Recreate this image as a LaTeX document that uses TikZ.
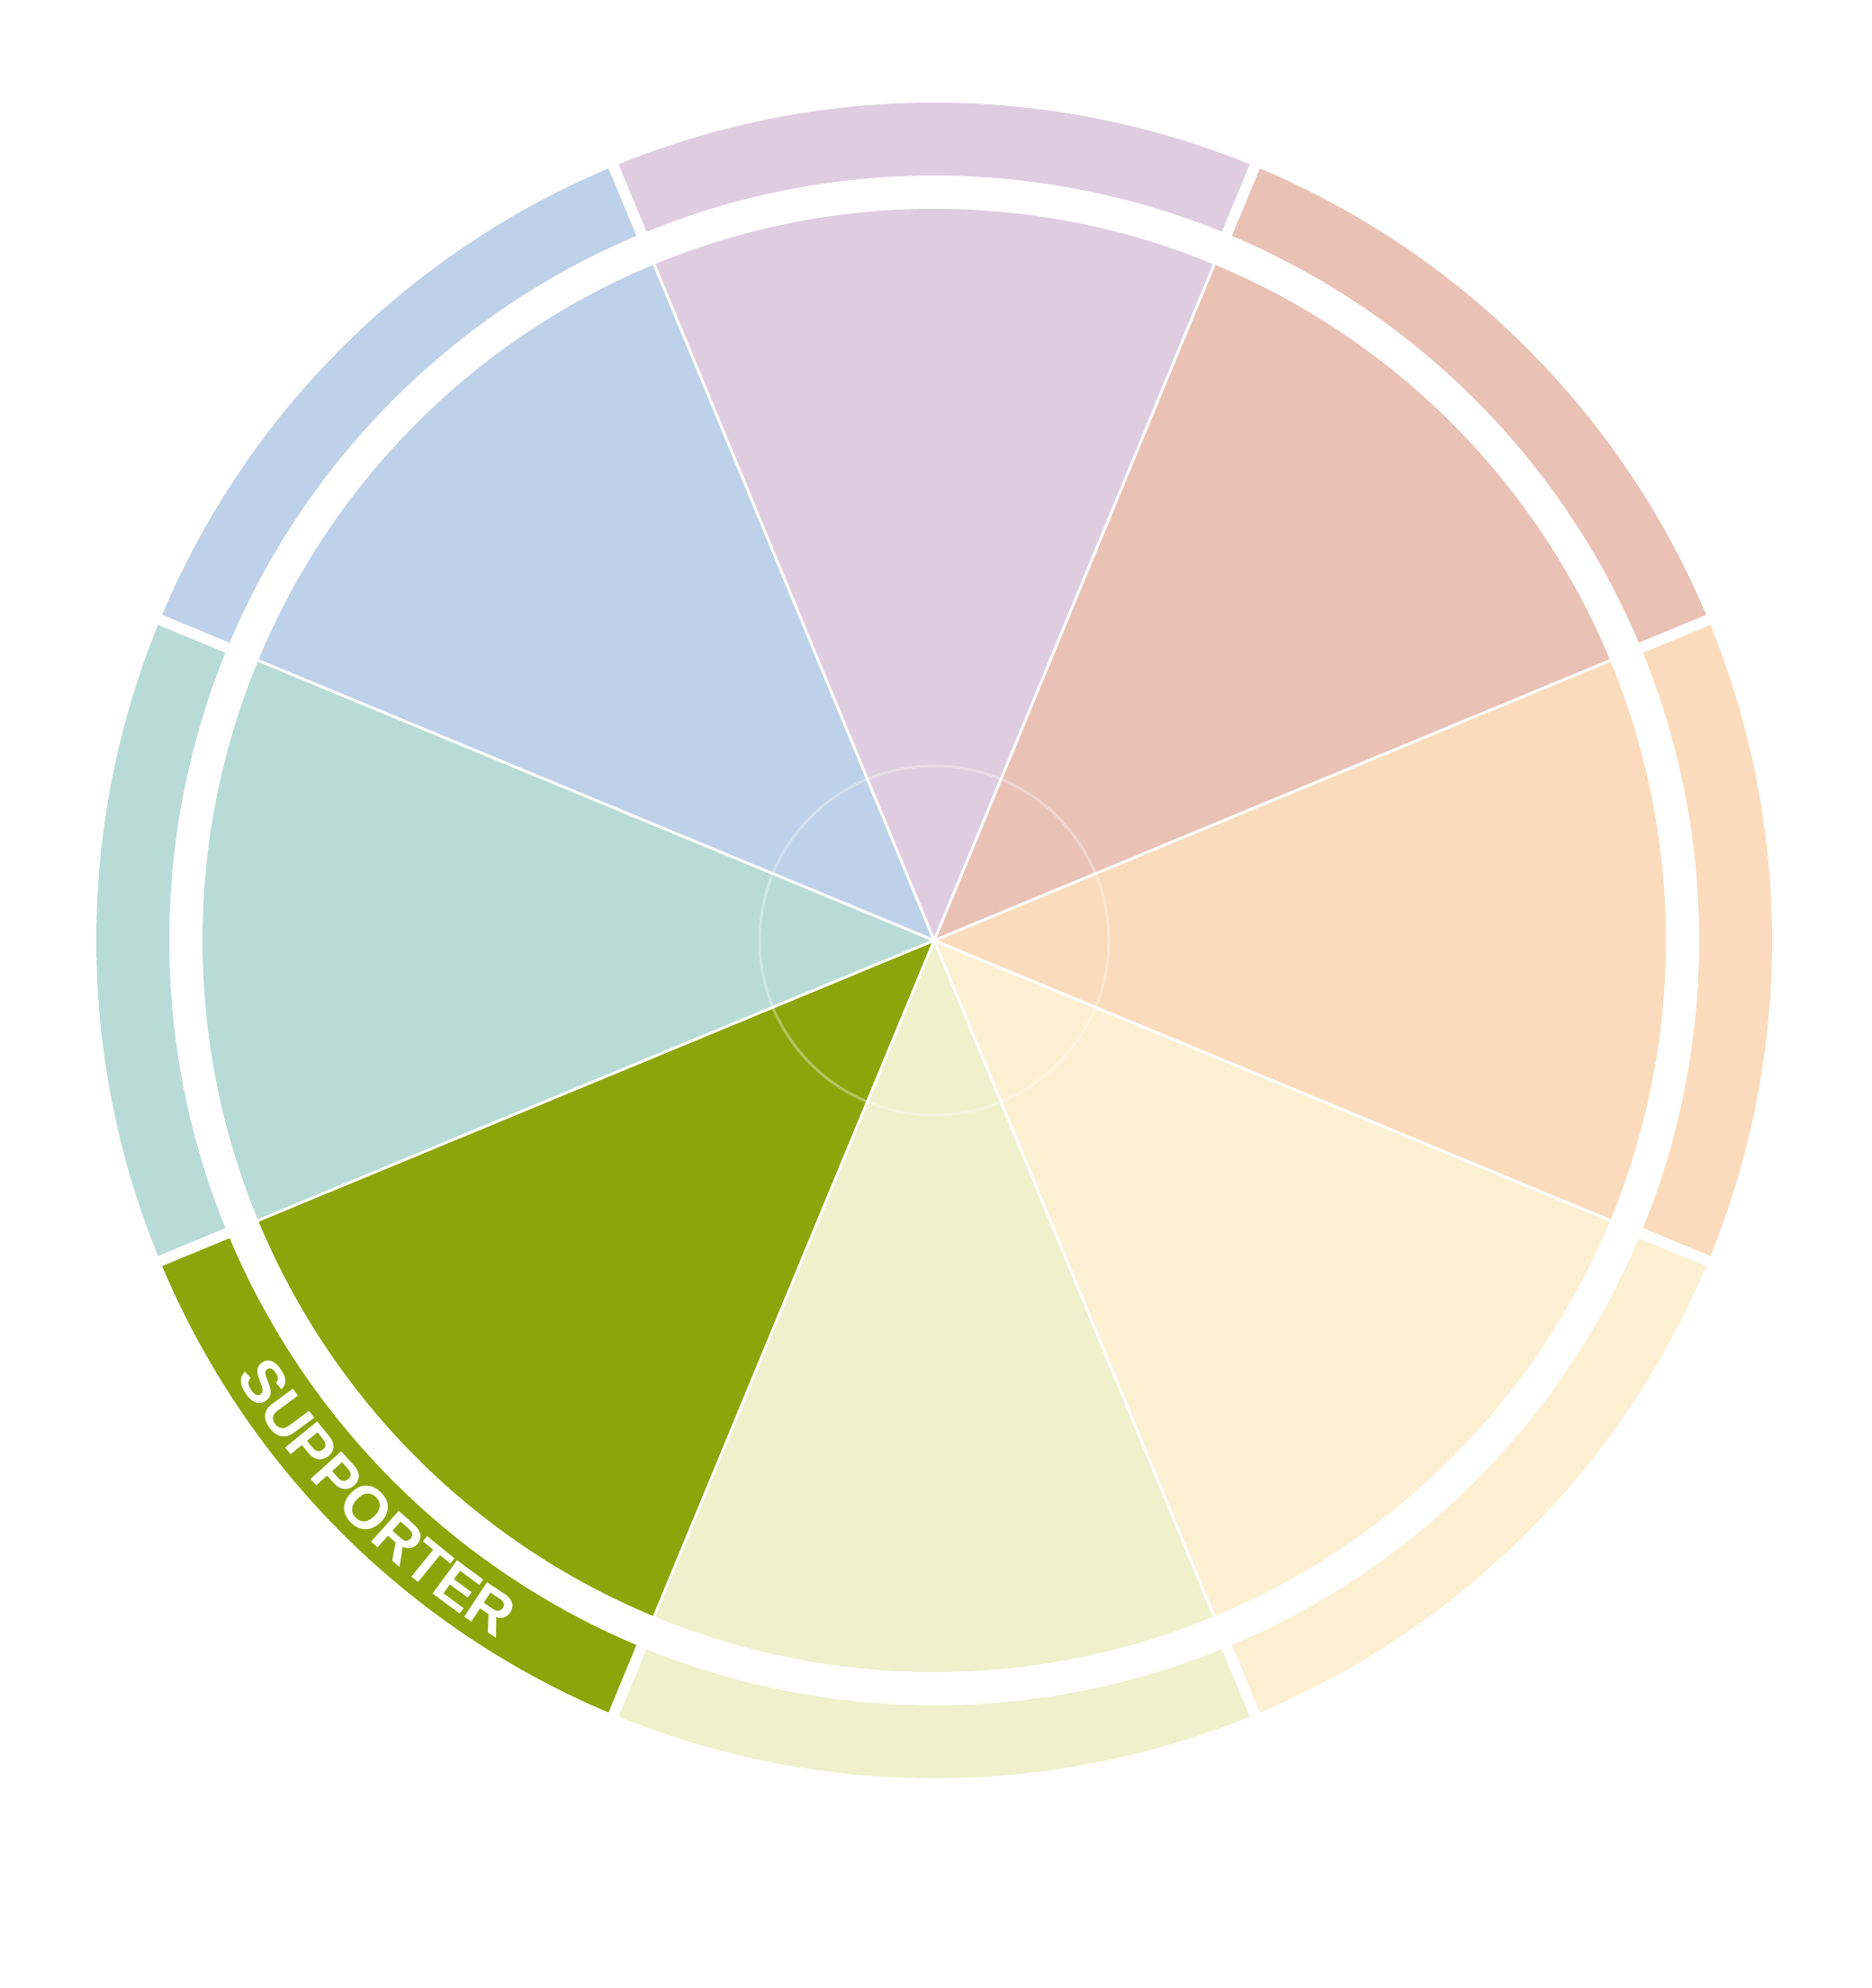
\documentclass[tikz,border=0pt]{standalone}
\usepackage{fontspec}
\setmainfont{Liberation Sans}
\usetikzlibrary{decorations.text}
\definecolor{rolePurple}{HTML}{E0CCE0}
\definecolor{roleSalmon}{HTML}{EAC1B5}
\definecolor{roleOrange}{HTML}{FADCBC}
\definecolor{roleCream}{HTML}{FDEFD1}
\definecolor{roleLime}{HTML}{EEF1CC}
\definecolor{roleGreen}{HTML}{8BA50A}
\definecolor{roleTeal}{HTML}{B8DBD8}
\definecolor{roleBlue}{HTML}{BDD1E8}
\begin{document}
\begin{tikzpicture}
  \useasboundingbox (-10.38,-11.64) rectangle (10.41,10.45);
  \coordinate (o) at (0,0);
  \pgfmathsetmacro{\innerR}{8.13}
  \pgfmathsetmacro{\ringIn}{8.50}
  \pgfmathsetmacro{\ringOut}{9.31}
  %--- Wedges
  \fill[rolePurple] (o) -- (67.5:\innerR) arc[start angle=67.5,end angle=112.5,radius=\innerR] -- cycle;
  \fill[roleBlue] (o) -- (112.5:\innerR) arc[start angle=112.5,end angle=157.5,radius=\innerR] -- cycle;
  \fill[roleTeal] (o) -- (157.5:\innerR) arc[start angle=157.5,end angle=202.5,radius=\innerR] -- cycle;
  \fill[roleGreen] (o) -- (202.5:\innerR) arc[start angle=202.5,end angle=247.5,radius=\innerR] -- cycle;
  \fill[roleLime] (o) -- (247.5:\innerR) arc[start angle=247.5,end angle=292.5,radius=\innerR] -- cycle;
  \fill[roleCream] (o) -- (292.5:\innerR) arc[start angle=292.5,end angle=337.5,radius=\innerR] -- cycle;
  \fill[roleOrange] (o) -- (-22.5:\innerR) arc[start angle=-22.5,end angle=22.5,radius=\innerR] -- cycle;
  \fill[roleSalmon] (o) -- (22.5:\innerR) arc[start angle=22.5,end angle=67.5,radius=\innerR] -- cycle;
  %--- Outer ring
  \fill[rolePurple] (67.5:\ringIn) arc[start angle=67.5,end angle=112.5,radius=\ringIn] -- (112.5:\ringOut) arc[start angle=112.5,end angle=67.5,radius=\ringOut] -- cycle;
  \fill[roleBlue] (112.5:\ringIn) arc[start angle=112.5,end angle=157.5,radius=\ringIn] -- (157.5:\ringOut) arc[start angle=157.5,end angle=112.5,radius=\ringOut] -- cycle;
  \fill[roleTeal] (157.5:\ringIn) arc[start angle=157.5,end angle=202.5,radius=\ringIn] -- (202.5:\ringOut) arc[start angle=202.5,end angle=157.5,radius=\ringOut] -- cycle;
  \fill[roleGreen] (202.5:\ringIn) arc[start angle=202.5,end angle=247.5,radius=\ringIn] -- (247.5:\ringOut) arc[start angle=247.5,end angle=202.5,radius=\ringOut] -- cycle;
  \fill[roleLime] (247.5:\ringIn) arc[start angle=247.5,end angle=292.5,radius=\ringIn] -- (292.5:\ringOut) arc[start angle=292.5,end angle=247.5,radius=\ringOut] -- cycle;
  \fill[roleCream] (292.5:\ringIn) arc[start angle=292.5,end angle=337.5,radius=\ringIn] -- (337.5:\ringOut) arc[start angle=337.5,end angle=292.5,radius=\ringOut] -- cycle;
  \fill[roleOrange] (-22.5:\ringIn) arc[start angle=-22.5,end angle=22.5,radius=\ringIn] -- (22.5:\ringOut) arc[start angle=22.5,end angle=-22.5,radius=\ringOut] -- cycle;
  \fill[roleSalmon] (22.5:\ringIn) arc[start angle=22.5,end angle=67.5,radius=\ringIn] -- (67.5:\ringOut) arc[start angle=67.5,end angle=22.5,radius=\ringOut] -- cycle;
  %--- Dividers
  \draw[white, line width=0.03cm] (o) -- (22.5:\innerR);
  \draw[white, line width=0.03cm] (o) -- (67.5:\innerR);
  \draw[white, line width=0.03cm] (o) -- (112.5:\innerR);
  \draw[white, line width=0.03cm] (o) -- (157.5:\innerR);
  \draw[white, line width=0.03cm] (o) -- (202.5:\innerR);
  \draw[white, line width=0.03cm] (o) -- (247.5:\innerR);
  \draw[white, line width=0.03cm] (o) -- (292.5:\innerR);
  \draw[white, line width=0.03cm] (o) -- (337.5:\innerR);
  \draw[white, line width=0.12cm] (22.5:8.3) -- (22.5:9.5);
  \draw[white, line width=0.12cm] (67.5:8.3) -- (67.5:9.5);
  \draw[white, line width=0.12cm] (112.5:8.3) -- (112.5:9.5);
  \draw[white, line width=0.12cm] (157.5:8.3) -- (157.5:9.5);
  \draw[white, line width=0.12cm] (202.5:8.3) -- (202.5:9.5);
  \draw[white, line width=0.12cm] (247.5:8.3) -- (247.5:9.5);
  \draw[white, line width=0.12cm] (292.5:8.3) -- (292.5:9.5);
  \draw[white, line width=0.12cm] (337.5:8.3) -- (337.5:9.5);
  %--- Hub
  \draw[white, opacity=0.35, line width=0.03cm] (o) circle[radius=1.94];
  %--- Label
  \path[decorate, decoration={text along path, text align=center,
      text={|\fontsize{19}{19}\selectfont\bfseries\color{white}|SUPPORTER}}]
    (-157.5:9.15) arc[start angle=-157.5,end angle=-112.5,radius=9.15];
\end{tikzpicture}
\end{document}
